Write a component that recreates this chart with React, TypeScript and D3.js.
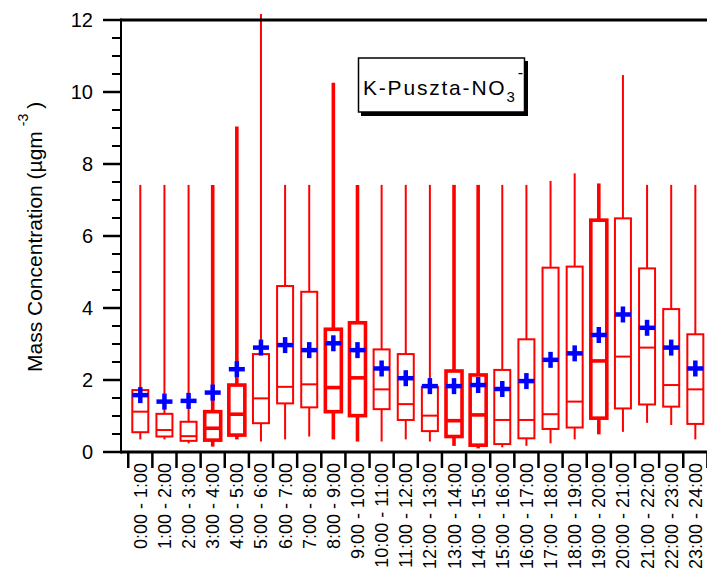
import React from "react";
import * as d3 from "d3";

// Hourly NO3- mass concentration statistics at K-Puszta (µg m-3)
const hourLabels = [
  "0:00 - 1:00", "1:00 - 2:00", "2:00 - 3:00", "3:00 - 4:00", "4:00 - 5:00", "5:00 - 6:00",
  "6:00 - 7:00", "7:00 - 8:00", "8:00 - 9:00", "9:00 - 10:00", "10:00 - 11:00", "11:00 - 12:00",
  "12:00 - 13:00", "13:00 - 14:00", "14:00 - 15:00", "15:00 - 16:00", "16:00 - 17:00", "17:00 - 18:00",
  "18:00 - 19:00", "19:00 - 20:00", "20:00 - 21:00", "21:00 - 22:00", "22:00 - 23:00", "23:00 - 24:00",
];
const whiskerHigh = [7.42, 7.42, 7.42, 7.42, 9.04, 12.17, 7.42, 7.42, 10.26, 7.42, 7.42, 7.42, 7.42, 7.42, 7.42, 7.42, 7.42, 7.53, 7.74, 7.46, 10.47, 7.42, 7.42, 7.42];
const upperQuartile = [1.72, 1.06, 0.84, 1.12, 1.86, 2.72, 4.61, 4.45, 3.41, 3.59, 2.85, 2.72, 1.81, 2.25, 2.14, 2.28, 3.13, 5.12, 5.15, 6.44, 6.49, 5.10, 3.97, 3.27];
const medians = [1.12, 0.61, 0.44, 0.66, 1.05, 1.49, 1.81, 1.88, 1.79, 2.06, 1.74, 1.33, 1.01, 0.87, 1.03, 0.89, 0.89, 1.05, 1.40, 2.53, 2.65, 2.90, 1.86, 1.74];
const lowerQuartile = [0.55, 0.43, 0.31, 0.33, 0.47, 0.80, 1.35, 1.24, 1.12, 1.01, 1.19, 0.89, 0.58, 0.43, 0.19, 0.22, 0.38, 0.64, 0.68, 0.94, 1.21, 1.32, 1.26, 0.78];
const whiskerLow = [0.35, 0.35, 0.24, 0.15, 0.35, 0.29, 0.35, 0.43, 0.35, 0.29, 0.29, 0.35, 0.29, 0.17, 0.10, 0.13, 0.17, 0.24, 0.35, 0.49, 0.56, 0.81, 0.75, 0.35];
const means = [1.58, 1.40, 1.42, 1.65, 2.30, 2.90, 2.97, 2.83, 3.02, 2.83, 2.32, 2.05, 1.83, 1.83, 1.86, 1.75, 1.97, 2.56, 2.74, 3.25, 3.82, 3.45, 2.90, 2.32];
const yMajorTicks = [0, 2, 4, 6, 8, 10, 12];
const yMinorTicks = d3.range(0, 12.01, 0.5);

// hours drawn with a heavier pen
const heavyHours = new Set([3, 4, 8, 9, 13, 14, 19]);

const FONT = "Arial, 'Liberation Sans', sans-serif";
const RED = "#ff0000";
const BLUE = "#0000ff";

export default function App() {
  const width = 707;
  const height = 571;
  const y = d3.scaleLinear().domain([0, 12]).range([452, 20]);
  const x = d3.scaleLinear().domain([-0.3, 24]).range([121, 707.4]);
  const boxHalf = 8;
  const crossHalf = 8;

  return (
    <svg
      width={width}
      height={height}
      style={{ position: "absolute", left: 0, top: 0, background: "#fff" }}
      fontFamily={FONT}
    >
      {/* boxes and whiskers */}
      {hourLabels.map((_, i) => {
        const cx = x(i + 0.5);
        const sw = heavyHours.has(i) ? 3.6 : 2;
        return (
          <g key={`box-${i}`} stroke={RED} fill="none">
            <line x1={cx} x2={cx} y1={y(whiskerHigh[i])} y2={y(upperQuartile[i])} strokeWidth={sw} />
            <line x1={cx} x2={cx} y1={y(lowerQuartile[i])} y2={y(whiskerLow[i])} strokeWidth={sw} />
            <rect
              x={cx - boxHalf}
              y={y(upperQuartile[i])}
              width={boxHalf * 2}
              height={y(lowerQuartile[i]) - y(upperQuartile[i])}
              fill="#fff"
              strokeWidth={sw}
            />
            <line x1={cx - boxHalf} x2={cx + boxHalf} y1={y(medians[i])} y2={y(medians[i])} strokeWidth={sw} />
          </g>
        );
      })}

      {/* mean markers */}
      {means.map((m, i) => {
        const cx = x(i + 0.5);
        const cy = y(m);
        return (
          <g key={`mean-${i}`} stroke={BLUE} strokeWidth={4.5}>
            <line x1={cx - crossHalf} x2={cx + crossHalf} y1={cy} y2={cy} />
            <line x1={cx} x2={cx} y1={cy - crossHalf} y2={cy + crossHalf} />
          </g>
        );
      })}

      {/* frame */}
      <line x1={121} x2={width} y1={y(12)} y2={y(12)} stroke="#000" strokeWidth={3} />
      <line x1={121} x2={width} y1={y(0)} y2={y(0)} stroke="#000" strokeWidth={3} />
      <line x1={121} x2={121} y1={y(12) - 1.5} y2={y(0) + 1.5} stroke="#000" strokeWidth={2} />

      {/* y axis ticks */}
      {yMinorTicks.map((t) => (
        <line key={`ym-${t}`} x1={112} x2={121} y1={y(t)} y2={y(t)} stroke="#000" strokeWidth={2} />
      ))}
      {yMajorTicks.map((t) => (
        <g key={`yM-${t}`}>
          <line x1={103} x2={121} y1={y(t)} y2={y(t)} stroke="#000" strokeWidth={2.5} />
          <text x={93} y={y(t)} dy="0.36em" textAnchor="end" fontSize={20} fill="#000">
            {t}
          </text>
        </g>
      ))}

      {/* x axis ticks at hour boundaries and labels at box centres */}
      {d3.range(0, 25).map((b) => (
        <line key={`xt-${b}`} x1={x(b)} x2={x(b)} y1={y(0)} y2={y(0) + 16} stroke="#000" strokeWidth={2.5} />
      ))}
      {hourLabels.map((lab, i) => (
        <text
          key={`xl-${i}`}
          transform={`translate(${x(i + 0.5)},463) rotate(-90)`}
          dy="0.36em"
          textAnchor="end"
          fontSize={18}
          fill="#000"
        >
          {lab}
        </text>
      ))}

      {/* y axis title */}
      <text transform="translate(42,372) rotate(-90)" fontSize={21} fill="#000">
        Mass Concentration (µgm
        <tspan dx={5} dy={-14} fontSize={14}>-3</tspan>
        <tspan dx={5} dy={14}>)</tspan>
      </text>

      {/* station label */}
      <rect x={361} y={61} width={167} height={55} fill="#000" />
      <rect x={358.5} y={58} width={166} height={54} fill="#fff" stroke="#000" strokeWidth={1.5} />
      <text x={363} y={95} fontSize={21} letterSpacing={1.8} fill="#000">
        K-Puszta-NO
        <tspan dy={7} fontSize={15}>3</tspan>
        <tspan dx={1} dy={-24} fontSize={16}>-</tspan>
      </text>
    </svg>
  );
}
